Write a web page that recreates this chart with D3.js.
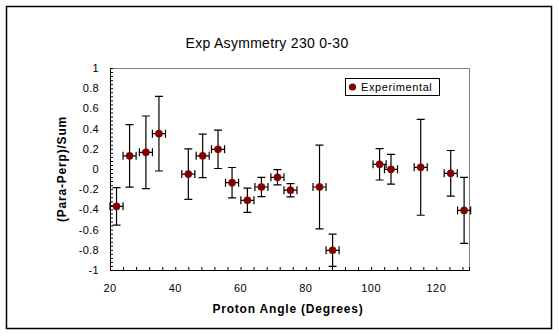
<!DOCTYPE html>
<html>
<head>
<meta charset="utf-8">
<script src="https://cdn.jsdelivr.net/npm/d3@7"></script>
<style>
  body { margin: 0; background: #fff; }
  text { font-family: Arial, "Liberation Sans", sans-serif; fill: #000; }
</style>
</head>
<body>
<div id="chart"></div>
<script>
// data
const angles   = [22, 26, 31, 35, 44, 48.4, 53.1, 57.4, 62.1, 66.4, 71.3, 75.3, 84.2, 88.2, 102.6, 106.1, 115.2, 124.4, 128.5];
const asym     = [-0.37, 0.13, 0.165, 0.35, -0.05, 0.13, 0.195, -0.135, -0.31, -0.178, -0.082, -0.21, -0.178, -0.805, 0.046, -0.003, 0.017, -0.043, -0.41];
const asymErr  = [0.185, 0.31, 0.36, 0.37, 0.25, 0.216, 0.19, 0.15, 0.12, 0.095, 0.075, 0.065, 0.415, 0.16, 0.155, 0.147, 0.475, 0.226, 0.327];
const angleErr = 2;
const xTicks = [20, 40, 60, 80, 100, 120];
const yTicks = [1, 0.8, 0.6, 0.4, 0.2, 0, -0.2, -0.4, -0.6, -0.8, -1];

const data = angles.map((a, i) => ({ x: a, y: asym[i], e: asymErr[i] }));

// 1: SVG
const W = 559, H = 336;
const plot = { left: 110, top: 68, right: 469, bottom: 270 };

const svg = d3.select("#chart").append("svg")
    .attr("width", W)
    .attr("height", H);

// outer chart border
svg.append("rect")
    .attr("x", 6.5).attr("y", 6.5)
    .attr("width", 545).attr("height", 322)
    .attr("fill", "#fff")
    .attr("stroke", "#000")
    .attr("stroke-width", 1.5);

// 2: SCALES
const x = d3.scaleLinear().domain([20, 130]).range([plot.left, plot.right]);
const y = d3.scaleLinear().domain([-1, 1]).range([plot.bottom, plot.top]);

// plot area frame (top/right grey)
svg.append("path")
    .attr("d", `M${plot.left},${plot.top + 0.5}H${plot.right + 0.5}V${plot.bottom}`)
    .attr("fill", "none")
    .attr("stroke", "#808080")
    .attr("stroke-width", 1);

// 3: AXES - minor ticks inside
const xMinor = d3.range(20, 130.01, 4);
const yMinor = d3.range(-1, 1.001, 0.04);

svg.append("g")
    .attr("transform", `translate(0,${plot.bottom})`)
    .call(d3.axisTop(x).tickValues(xMinor).tickSize(3).tickFormat(""))
    .call(g => g.selectAll("line, path").attr("stroke", "#000"));

svg.append("g")
    .attr("transform", `translate(${plot.left},0)`)
    .call(d3.axisRight(y).tickValues(yMinor).tickSize(3).tickFormat(""))
    .call(g => g.selectAll("line, path").attr("stroke", "#000"));

// axis lines
svg.append("line")
    .attr("x1", plot.left + 0.5).attr("x2", plot.left + 0.5)
    .attr("y1", plot.top).attr("y2", plot.bottom)
    .attr("stroke", "#000");
svg.append("line")
    .attr("x1", plot.left).attr("x2", plot.right + 1)
    .attr("y1", plot.bottom + 0.5).attr("y2", plot.bottom + 0.5)
    .attr("stroke", "#000");

// tick labels
svg.append("g").selectAll("text")
    .data(xTicks)
    .enter().append("text")
    .attr("x", d => x(d))
    .attr("y", plot.bottom + 22)
    .attr("text-anchor", "middle")
    .style("font-size", "11px")
    .style("letter-spacing", "0.5px")
    .text(d => d);

svg.append("g").selectAll("text")
    .data(yTicks)
    .enter().append("text")
    .attr("x", plot.left - 11)
    .attr("y", d => y(d) + 4)
    .attr("text-anchor", "end")
    .style("font-size", "11px")
    .style("letter-spacing", "0.3px")
    .text(d => String(d));

// 4: ERROR BARS
const bars = svg.append("g").attr("stroke", "#000").attr("stroke-width", 1.2);
const cap = 4;

data.forEach(d => {
    const cx = x(d.x), cy = y(d.y);
    const yt = y(Math.min(1, d.y + d.e)), yb = y(Math.max(-1, d.y - d.e));
    const xl = x(d.x - angleErr), xr = x(d.x + angleErr);
    bars.append("path")
        .attr("fill", "none")
        .attr("d",
            `M${cx},${yt}V${yb}` +
            `M${cx - cap},${yt}H${cx + cap}` +
            `M${cx - cap},${yb}H${cx + cap}` +
            `M${xl},${cy}H${xr}` +
            `M${xl},${cy - cap}V${cy + cap}` +
            `M${xr},${cy - cap}V${cy + cap}`);
});

// 5: POINTS
svg.append("g").selectAll("circle")
    .data(data)
    .enter().append("circle")
    .attr("cx", d => x(d.x))
    .attr("cy", d => y(d.y))
    .attr("r", 3.6)
    .attr("fill", "#800000")
    .attr("stroke", "#800000")
    .attr("stroke-width", 0.6);

// 6: LABELS
svg.append("text")
    .attr("x", 267)
    .attr("y", 48)
    .attr("text-anchor", "middle")
    .style("font-size", "14px")
    .style("letter-spacing", "0.3px")
    .text("Exp Asymmetry 230 0-30");

svg.append("text")
    .attr("x", 288)
    .attr("y", 313)
    .attr("text-anchor", "middle")
    .style("font-size", "12px")
    .style("font-weight", "bold")
    .style("letter-spacing", "0.8px")
    .text("Proton Angle (Degrees)");

svg.append("text")
    .attr("transform", `translate(66,${(plot.top + plot.bottom) / 2}) rotate(-90)`)
    .attr("text-anchor", "middle")
    .style("font-size", "12px")
    .style("font-weight", "bold")
    .style("letter-spacing", "0.8px")
    .text("(Para-Perp)/Sum");

// legend
const legend = svg.append("g");
legend.append("rect")
    .attr("x", 345.5).attr("y", 78.5)
    .attr("width", 94).attr("height", 17)
    .attr("fill", "#fff")
    .attr("stroke", "#000");
legend.append("circle")
    .attr("cx", 352.5).attr("cy", 87)
    .attr("r", 3.6)
    .attr("fill", "#800000");
legend.append("text")
    .attr("x", 361)
    .attr("y", 91)
    .style("font-size", "11px")
    .style("letter-spacing", "0.6px")
    .text("Experimental");
</script>
</body>
</html>
